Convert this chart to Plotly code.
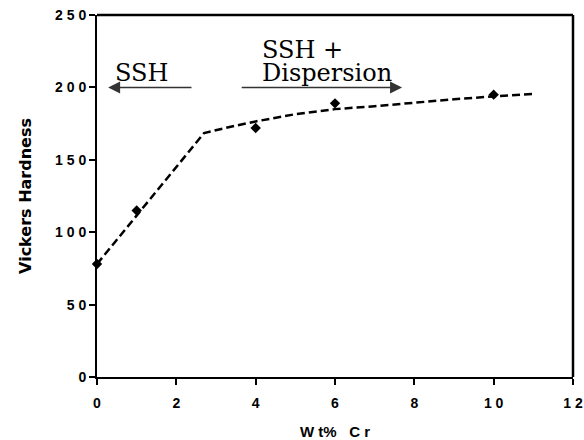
import plotly.graph_objects as go

# Measured data
cr_wt = [0, 1, 4, 6, 10]
hardness = [78, 115, 172, 189, 195]

# Trend line
trend_x = [0, 2.7, 3.4, 4, 5, 6, 7, 8, 9, 10, 11]
trend_y = [78, 168.5, 173, 176.5, 181.5, 185, 187, 189.5, 191.8, 193.8, 195.5]

x_ticks = [0, 2, 4, 6, 8, 10, 12]
x_ticktext = ["0", "2", "4", "6", "8", "1 0", "1 2"]
y_ticks = [0, 50, 100, 150, 200, 250]
y_ticktext = ["0", "5 0", "1 0 0", "1 5 0", "2 0 0", "2 5 0"]

fig = go.Figure()
fig.add_trace(go.Scatter(
    x=trend_x, y=trend_y, mode="lines",
    line=dict(color="black", width=2.5, dash="8px,4px"),
    hoverinfo="skip", showlegend=False,
))
fig.add_trace(go.Scatter(
    x=cr_wt, y=hardness, mode="markers",
    marker=dict(symbol="diamond", size=8, color="black"),
    showlegend=False, cliponaxis=False,
))

tickfont = dict(family="Liberation Sans, Arial", size=14, color="black")
fig.update_xaxes(
    range=[0, 12], tickvals=x_ticks, ticktext=["<b>%s</b>" % t for t in x_ticktext],
    showgrid=False, zeroline=False, automargin=False,
    showline=True, linecolor="black", linewidth=2,
    ticks="outside", ticklen=6, tickwidth=1.5, tickcolor="black",
    tickfont=tickfont,
    title=dict(text="<b>W&nbsp;t%&nbsp;&nbsp;&nbsp;C&nbsp;r</b>",
               font=dict(family="Liberation Sans, Arial", size=15, color="black"), standoff=20),
)
fig.update_yaxes(
    range=[0, 250], tickvals=y_ticks, ticktext=["<b>%s</b>" % t for t in y_ticktext + []],
    showgrid=False, zeroline=False, automargin=False,
    showline=True, linecolor="black", linewidth=2,
    ticks="outside", ticklen=6, tickwidth=1.5, tickcolor="black",
    tickfont=tickfont,
    title=dict(text="<b>Vickers Hardness</b>", font=dict(family="DejaVu Sans", size=16, color="black"), standoff=19),
)
# tick label standoff done via invisible-free spacing: keep labels off the axis
fig.update_yaxes(ticksuffix="  ")
fig.update_xaxes(ticklabelstandoff=6)

# plot frame (top and right border)
fig.add_shape(type="line", xref="paper", yref="paper", x0=0, x1=1, y0=1, y1=1,
              line=dict(color="black", width=2.5), layer="above")
fig.add_shape(type="line", xref="paper", yref="paper", x0=1, x1=1, y0=0, y1=1,
              line=dict(color="black", width=2.5), layer="above")

serif = dict(family="DejaVu Serif", size=24, color="black")
# Arrows
fig.add_annotation(x=0.28, y=200, ax=2.42, ay=200, xref="x", yref="y", axref="x", ayref="y",
                   text="", showarrow=True, arrowhead=2, arrowsize=1.6, arrowwidth=1.5, arrowcolor="#333333")
fig.add_annotation(x=7.69, y=200, ax=3.61, ay=200, xref="x", yref="y", axref="x", ayref="y",
                   text="", showarrow=True, arrowhead=2, arrowsize=1.6, arrowwidth=1.5, arrowcolor="#333333")
# Labels
fig.add_annotation(x=0.41, y=210, xref="x", yref="y", text="SSH", showarrow=False,
                   xanchor="left", yanchor="middle", font=serif)
fig.add_annotation(x=4.12, y=226, xref="x", yref="y", text="SSH +", showarrow=False,
                   xanchor="left", yanchor="middle", font=serif)
fig.add_annotation(x=4.12, y=210, xref="x", yref="y", text="Dispersion", showarrow=False,
                   xanchor="left", yanchor="middle", font=serif)

fig.update_layout(
    width=584, height=440,
    margin=dict(l=97, r=11, t=15, b=63),
    paper_bgcolor="white", plot_bgcolor="white",
    showlegend=False,
)
fig.write_html("out.html")
